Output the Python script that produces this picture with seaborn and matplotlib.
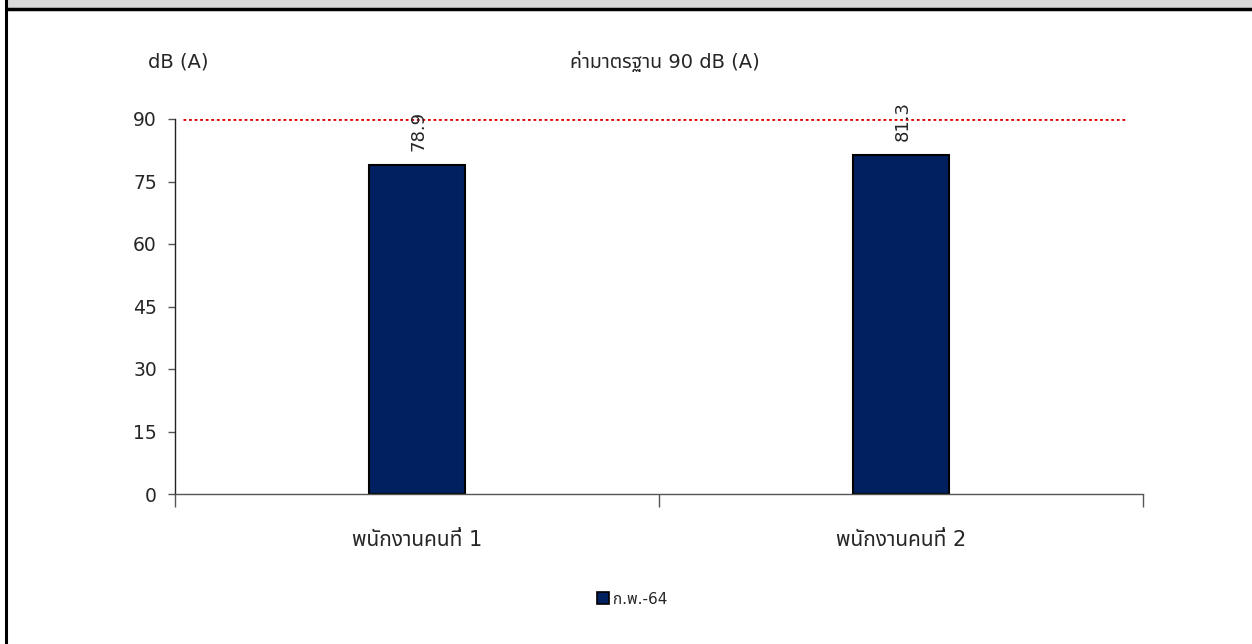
import matplotlib
matplotlib.use("Agg")
import matplotlib.pyplot as plt
from matplotlib.patches import Rectangle
from matplotlib.lines import Line2D
import seaborn as sns
import pandas as pd

# ---- data ----
categories = ["พนักงานคนที่ 1", "พนักงานคนที่ 2"]
values = [78.9, 81.3]
series_name = "ก.พ.-64"
standard = 90
yticks = [0, 15, 30, 45, 60, 75, 90]
y_unit = "dB (A)"
standard_label = "ค่ามาตรฐาน 90 dB (A)"

sns.set_theme(style="white")
plt.rcParams['font.family'] = ['DejaVu Sans', 'Noto Sans Thai']

TXT = "#262626"
W, H = 1252, 644
fig = plt.figure(figsize=(W / 100, H / 100), dpi=100)
ax = fig.add_axes([175 / W, 1 - 494 / H, (1143 - 175) / W, (494 - 119) / H])

df = pd.DataFrame({"cat": categories, "val": values, "series": series_name})
bar_color = "#002060"
sns.barplot(data=df, x="cat", y="val", ax=ax, color=bar_color, width=0.2,
            edgecolor="black", linewidth=1.5, saturation=1)

ax.set_xlim(-0.5, 1.5)
ax.set_ylim(0, 90)
ax.set_yticks(yticks)
ax.set_xlabel("")
ax.set_ylabel("")

# red dotted standard line
ax.hlines(standard, -0.483, 1.467, colors="#E00000", linestyles=(0, (1, 1)), linewidth=2, zorder=3)

# value labels
for i, v in enumerate(values):
    ax.annotate(f"{v}", (i, v), xytext=(1, 10), textcoords="offset points",
                rotation=90, ha="center", va="bottom", fontsize=13, color=TXT)

# spines & ticks
for s in ["top", "right"]:
    ax.spines[s].set_visible(False)
ax.spines["left"].set_color("#222222")
ax.spines["bottom"].set_color("#555555")
ax.spines["left"].set_linewidth(1)
ax.spines["bottom"].set_linewidth(1)
ax.tick_params(axis="y", which="major", left=True, length=5, width=1, color="#555555",
               pad=8, labelsize=13.5, labelcolor=TXT)
ax.set_xticks([-0.5, 0.5, 1.5], minor=True)
ax.tick_params(axis="x", which="minor", bottom=True, length=9, width=1, color="#555555")
ax.tick_params(axis="x", which="major", bottom=False, length=0, pad=26, labelsize=15,
               labelcolor=TXT)
ax.grid(False)

# titles
fig.text(178 / W, 1 - 62 / H, y_unit, ha="center", va="center", fontsize=14, color=TXT)
fig.text(665 / W, 1 - 62 / H, standard_label, ha="center", va="center", fontsize=14, color=TXT)

# legend
handle = Rectangle((0, 0), 1, 1, facecolor=bar_color, edgecolor="black", linewidth=1.2)
fig.legend([handle], [series_name], loc="center", bbox_to_anchor=(632 / W, 1 - 599 / H),
           frameon=False, fontsize=11, handlelength=0.8, handleheight=0.8, handletextpad=0.25,
           labelcolor=TXT)

# frame decorations
fig.patches.append(Rectangle((7 / W, 1 - 8 / H), 1, 8 / H, transform=fig.transFigure,
                             facecolor="#D9D9D9", edgecolor="none", linewidth=0, zorder=0))
fig.add_artist(Line2D([7 / W, 1], [1 - 9 / H, 1 - 9 / H], transform=fig.transFigure,
                      color="black", linewidth=2.5))
fig.add_artist(Line2D([6 / W, 6 / W], [0, 1], transform=fig.transFigure,
                      color="black", linewidth=2.2))

fig.savefig("out.png", dpi=100)
